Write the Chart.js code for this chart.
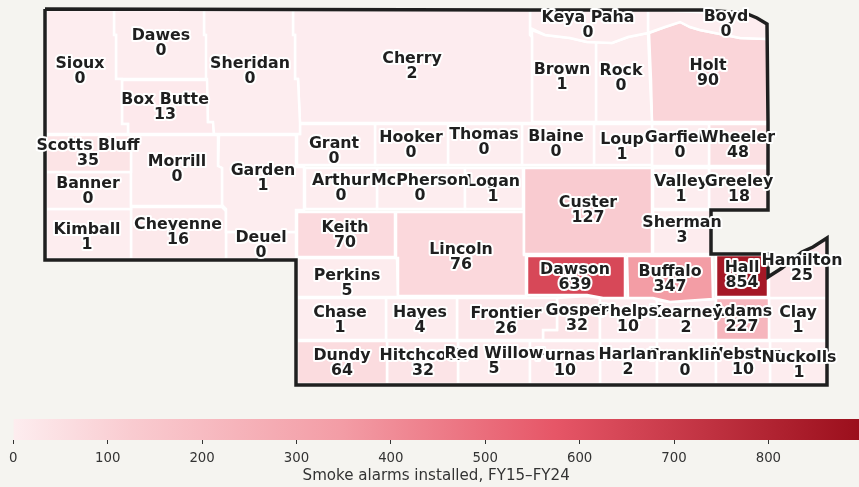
<!DOCTYPE html>
<html>
<head>
<meta charset="utf-8">
<script src="https://cdn.jsdelivr.net/npm/chart.js@4"></script>
<style>
html,body{margin:0;padding:0;background:#f5f4f0;width:859px;height:487px;overflow:hidden}
#mapBox{position:absolute;left:0;top:0;width:859px;height:400px}
#barBox{position:absolute;left:0;top:400px;width:859px;height:87px}
canvas{display:block}
</style>
</head>
<body>
<div id="mapBox"><canvas id="map" width="859" height="400"></canvas></div>
<div id="barBox"><canvas id="bar" width="859" height="87"></canvas></div>
<script>
// Label draw order (later labels paint over earlier ones)
const countyNames = ["Sioux","Dawes","Sheridan","Box Butte","Cherry","Keya Paha","Boyd","Brown","Rock","Holt","Scotts Bluff","Morrill","Garden","Banner","Kimball","Cheyenne","Deuel","Grant","Hooker","Thomas","Blaine","Loup","Garfield","Wheeler","Arthur","Logan","McPherson","Custer","Valley","Greeley","Sherman","Keith","Lincoln","Perkins","Dawson","Buffalo","Hall","Hamilton","Chase","Hayes","Frontier","Adams","Kearney","Phelps","Gosper","Clay","Dundy","Hitchcock","Furnas","Red Willow","Webster","Franklin","Harlan","Nuckolls"];
const alarmsInstalled = [0,0,0,13,2,0,0,1,0,90,35,0,1,0,1,16,0,0,0,0,0,1,0,48,0,1,0,127,1,18,3,70,76,5,639,347,854,25,1,4,26,227,2,10,32,1,64,32,10,5,10,0,2,1];
// Label anchors in map units, same order as countyNames
const labelX = [80,161,250,165,412,588,726,562,621,708,88,177,263,88,87,178,261,334,411,484,556,622,680,738,341,493,420,588,681,739,682,345,461,347,575,670,742,802,340,420,506,742,686,628,577,798,342,423,565,494,743,685,628,799];
const labelY = [63,35,63,99,58,17,16,69,70,65,145,161,170,183,229,224,237,143,137,134,136,139,137,137,180,181,180,202,181,181,222,227,249,275,269,271,267,260,312,312,313,311,312,311,310,312,355,355,355,353,354,355,354,357];
// County rings in map units, same order as countyNames
const countyRings = [
 [46,10,114,10,114,35,116,35,116,79,122,79,122,124,128,124,128,134,46,134],
 [114,10,204,10,204,35,206,35,206,79,116,79,116,35,114,35],
 [204,10,293,10,293,35,295,35,295,79,298,79,300,123,300,134,214,134,213,122,208,122,207,79,205,79,205,35,204,35],
 [122,80,208,80,208,122,213,122,214,134,128,134,128,124,122,124],
 [293,10,530,10,530,35,532,37,532,123,300,123,298,79,295,79,295,35,293,35],
 [530,10,648,10,648,33,628,37,612,43,587,42,570,38,545,35,530,28],
 [648,10,745,14,757,18,767,24,767,39,740,38,715,33,700,30,690,27,680,22,665,27,648,33],
 [532,30,545,35,570,38,587,42,596,42,596,122,532,122],
 [596,42,612,43,628,37,648,33,650,80,652,122,596,122],
 [649,33,665,27,680,22,690,27,700,30,715,33,740,38,767,39,768,80,768,122,652,122,651,80],
 [46,135,131,135,131,172,46,172],
 [131,135,218,135,218,166,222,168,222,206,131,206],
 [219,135,296,135,296,167,304,167,304,210,296,210,296,232,226,232,226,209,222,205,222,168,218,166],
 [46,172,131,172,131,209,46,209],
 [46,209,131,209,131,259,46,259],
 [131,207,222,207,226,211,226,259,131,259],
 [226,232,296,232,296,259,226,259],
 [297,134,300,134,300,124,375,124,375,165,297,165],
 [375,124,448,124,448,165,375,165],
 [448,124,522,124,522,165,448,165],
 [522,124,594,124,594,165,522,165],
 [594,124,652,124,652,165,594,165],
 [652,124,709,124,709,166,652,166],
 [709,124,768,124,768,166,709,166],
 [305,168,377,168,377,209,305,209],
 [465,168,523,168,523,209,465,209],
 [377,168,465,168,465,209,377,209],
 [524,168,652,168,652,254,524,254],
 [653,168,709,168,709,209,653,209],
 [709,168,768,168,768,209,709,209],
 [653,210,711,210,711,254,653,254],
 [297,212,395,212,395,257,297,257],
 [396,212,524,212,524,255,526,255,526,296,398,296,398,258,396,258],
 [297,258,397,258,398,297,297,297],
 [527,256,625,256,625,298,603,298,587,295,527,295],
 [627,256,712,256,713,299,670,302,653,298,628,298],
 [716,255,768,255,768,297,716,297],
 [769,277,782,268,790,262,802,252,813,247,827,238,827,298,769,298],
 [297,298,386,298,386,340,297,340],
 [386,298,457,298,457,340,386,340],
 [457,298,557,298,557,330,543,330,543,340,457,340],
 [716,298,769,298,769,340,716,340],
 [657,300,670,302,713,299,716,299,716,340,657,340],
 [600,298,625,298,653,298,657,300,657,340,600,340],
 [557,298,587,296,600,298,600,340,543,340,543,330,557,330],
 [769,298,827,298,827,340,769,340],
 [297,341,387,341,387,384,297,384],
 [387,341,458,341,458,384,387,384],
 [530,341,600,341,600,384,530,384],
 [458,341,530,341,530,384,458,384],
 [716,341,770,341,770,384,716,384],
 [657,341,716,341,716,384,657,384],
 [600,341,657,341,657,384,600,384],
 [770,341,827,341,827,384,770,384]
];
const stateOutline = [45,9,530,10,703,10,745,13,757,18,767,24,768,122,768,210,711,210,711,254,768,254,768,277,782,268,802,252,813,247,827,238,827,385,296,385,296,260,45,260,45,9];
const colorStops = [0,"#fdedef",0.14,"#f9cbd0",0.39,"#f39ca5",0.64,"#e65667",1,"#9b0f1c"];
const colorMax = 896;
const colorTicks = [0,100,200,300,400,500,600,700,800];
const colorTitle = "Smoke alarms installed, FY15\u2013FY24";

function hexRgb(h){return [1,3,5].map(i=>parseInt(h.substr(i,2),16));}
function colorFor(v){
  const t=Math.min(1,v/colorMax);
  for(let i=0;i<colorStops.length-2;i+=2){
    if(t<=colorStops[i+2]){
      const a=hexRgb(colorStops[i+1]),b=hexRgb(colorStops[i+3]);
      const u=(t-colorStops[i])/(colorStops[i+2]-colorStops[i]);
      return "rgb("+a.map((c,k)=>Math.round(c+(b[k]-c)*u)).join(",")+")";
    }
  }
  return colorStops[colorStops.length-1];
}
function toPoints(r){
  const p=[];
  for(let i=0;i<r.length;i+=2)p.push({x:r[i],y:r[i+1]});
  if(r[0]!==r[r.length-2]||r[1]!==r[r.length-1])p.push({x:r[0],y:r[1]});
  return p;
}
const FONT='"DejaVu Sans"';
const labelPlugin={
  id:"countyLabels",
  afterDatasetsDraw(chart){
    const c=chart.ctx,sx=chart.scales.x,sy=chart.scales.y;
    c.save();
    c.font="bold 15.8px "+FONT;
    c.textAlign="center";c.textBaseline="middle";c.lineJoin="round";
    const put=(s,x,y)=>{
      c.lineWidth=4;c.strokeStyle="#ffffff";c.strokeText(s,x,y);
      c.fillStyle="#1f1f1f";c.fillText(s,x,y);
    };
    countyNames.forEach((n,i)=>{
      const x=sx.getPixelForValue(labelX[i]),y=sy.getPixelForValue(labelY[i])+1;
      put(n,x,y);
      put(String(alarmsInstalled[i]),x,y+15);
    });
    c.restore();
  }
};
const datasets=[{
  data:toPoints(stateOutline),showLine:true,pointRadius:0,borderColor:"#1f1f1f",borderWidth:3.5,fill:false,tension:0,clip:false,borderJoinStyle:"miter"
}];
countyRings.forEach((r,i)=>{
  datasets.push({
    label:countyNames[i],data:toPoints(r),showLine:true,pointRadius:0,
    backgroundColor:colorFor(alarmsInstalled[i]),borderColor:"#ffffff",borderWidth:2.5,fill:"shape",tension:0,clip:false
  });
});
new Chart(document.getElementById("map"),{
  type:"scatter",
  data:{datasets},
  plugins:[labelPlugin],
  options:{
    responsive:false,animation:false,
    layout:{padding:0},
    plugins:{legend:{display:false},tooltip:{enabled:false}},
    scales:{
      x:{type:"linear",display:false,min:0,max:859},
      y:{type:"linear",display:false,min:0,max:400,reverse:true}
    }
  }
});
new Chart(document.getElementById("bar"),{
  type:"bar",
  data:{labels:[""],datasets:[{
    data:[[0,colorMax]],barPercentage:1,categoryPercentage:1,
    backgroundColor(ctx){
      const a=ctx.chart.chartArea;
      if(!a)return "#e65667";
      const g=ctx.chart.ctx.createLinearGradient(a.left,0,a.right,0);
      for(let i=0;i<colorStops.length;i+=2)g.addColorStop(colorStops[i],colorStops[i+1]);
      return g;
    }
  }]},
  options:{
    indexAxis:"y",responsive:false,animation:false,
    layout:{padding:{left:13.3,right:0,top:19,bottom:0}},
    plugins:{legend:{display:false},tooltip:{enabled:false}},
    scales:{
      y:{display:false},
      x:{type:"linear",min:0,max:colorMax,
        afterBuildTicks(s){s.ticks=colorTicks.map(v=>({value:v}));},
        afterFit(s){s.height=47;},
        grid:{drawOnChartArea:false,drawTicks:true,tickLength:4,tickColor:"#333333",tickWidth:1},
        border:{display:false},
        ticks:{maxRotation:0,autoSkip:false,color:"#333333",padding:6.5,font:{family:FONT,size:13.3}},
        title:{display:true,text:colorTitle,color:"#333333",padding:{top:2,bottom:1.5},font:{family:FONT,size:15.1}}
      }
    }
  }
});
</script>
</body>
</html>
